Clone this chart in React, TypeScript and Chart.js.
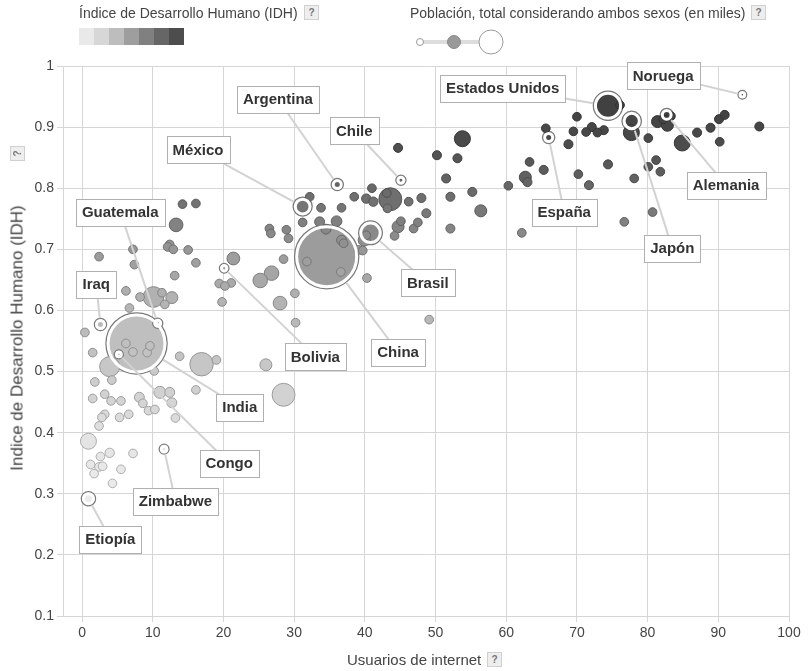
import React, { useEffect, useRef } from "react";
import { Chart, registerables } from "chart.js";

Chart.register(...registerables);

const FONT = "Arial, 'Liberation Sans', sans-serif";

const xTickValues = [0, 10, 20, 30, 40, 50, 60, 70, 80, 90, 100];
const yTickValues = [0.1, 0.2, 0.3, 0.4, 0.5, 0.6, 0.7, 0.8, 0.9, 1];

const labelledCountries = ["Noruega", "Estados Unidos", "Japón", "Alemania", "España", "Argentina", "Chile", "México", "Brasil", "China", "Bolivia", "Guatemala", "Iraq", "India", "Congo", "Zimbabwe", "Etiopía"];
const labelledInternet = [93.4, 74.4, 77.75, 82.7, 66.0, 36.1, 45.1, 31.2, 40.8, 34.6, 20.1, 10.7, 2.6, 7.7, 5.2, 11.6, 0.9];
const labelledIdh = [0.953, 0.935, 0.91, 0.92, 0.883, 0.806, 0.813, 0.77, 0.727, 0.688, 0.669, 0.579, 0.577, 0.546, 0.528, 0.373, 0.292];
const labelledPopulation = [5000, 315000, 127000, 40000, 32000, 32000, 14000, 120000, 200000, 1350000, 10000, 14000, 32000, 1240000, 6000, 12000, 54000];
const calloutInternet = [82.2, 59.5, 83.5, 91.1, 68.2, 27.7, 38.5, 16.4, 48.9, 44.7, 33.0, 5.4, 2.0, 22.3, 20.8, 13.2, 4.0];
const calloutIdh = [0.984, 0.964, 0.702, 0.805, 0.761, 0.946, 0.894, 0.863, 0.645, 0.532, 0.524, 0.761, 0.643, 0.442, 0.35, 0.288, 0.226];

const otherInternet = [
  76.1, 77.7, 81.4, 82.2, 82.8, 83.3, 84.9, 87.0, 88.9, 90.1,
  90.9, 95.8, 90.2, 80.1, 81.2, 80.1, 81.8, 74.4, 78.1, 71.7,
  80.7, 76.7, 71.3, 72.1, 72.9, 73.8, 70.0, 69.5, 68.8, 65.6,
  70.2, 65.3, 63.3, 62.7, 63.0, 60.3, 62.2, 53.8, 50.2, 53.1,
  51.5, 55.2, 52.1, 56.4, 48.7, 48.0, 52.1, 44.7, 32.2, 33.8,
  36.7, 38.5, 41.0, 40.2, 41.2, 43.6, 43.1, 43.2, 46.2, 31.2,
  33.6, 36.0, 34.5, 26.5, 26.7, 28.9, 29.2, 36.7, 37.0, 40.2,
  39.9, 39.1, 39.7, 44.7, 45.1, 44.2, 46.9, 47.5, 31.8, 36.6,
  40.3, 28.5, 26.8, 25.2, 30.1, 28.0, 30.2, 21.4, 21.1, 49.1,
  14.2, 16.1, 13.3, 12.4, 12.1, 12.9, 15.0, 7.2, 7.4, 2.4,
  16.1, 13.1, 6.2, 6.7, 10.1, 12.7, 8.2, 11.3, 11.7, 19.4,
  20.2, 19.8, 0.4, 6.2, 7.2, 9.2, 9.6, 1.5, 3.9, 4.2,
  10.2, 13.8, 16.9, 19.0, 1.8, 1.5, 3.2, 4.1, 5.5, 8.1,
  8.6, 11.0, 12.4, 12.7, 9.4, 10.3, 16.1, 13.2, 3.2, 2.8,
  2.4, 5.3, 6.6, 0.9, 3.9, 2.6, 1.2, 2.4, 1.7, 2.9,
  7.2, 5.5, 4.3, 28.5, 26.0,
];
const otherIdh = [
  0.936, 0.891, 0.909, 0.913, 0.903, 0.918, 0.874, 0.891, 0.899, 0.913,
  0.92, 0.901, 0.876, 0.882, 0.846, 0.835, 0.827, 0.839, 0.816, 0.805,
  0.761, 0.745, 0.892, 0.9, 0.891, 0.895, 0.917, 0.893, 0.872, 0.898,
  0.823, 0.83, 0.843, 0.818, 0.81, 0.804, 0.727, 0.881, 0.854, 0.849,
  0.816, 0.794, 0.786, 0.763, 0.759, 0.784, 0.734, 0.866, 0.786, 0.768,
  0.768, 0.786, 0.8, 0.783, 0.778, 0.782, 0.792, 0.767, 0.778, 0.744,
  0.745, 0.746, 0.733, 0.734, 0.726, 0.732, 0.718, 0.715, 0.71, 0.723,
  0.715, 0.699, 0.698, 0.737, 0.746, 0.722, 0.734, 0.744, 0.68, 0.663,
  0.653, 0.684, 0.661, 0.649, 0.628, 0.612, 0.58, 0.685, 0.645, 0.585,
  0.774, 0.775, 0.74, 0.708, 0.704, 0.7, 0.699, 0.7, 0.675, 0.688,
  0.678, 0.657, 0.632, 0.604, 0.622, 0.621, 0.622, 0.629, 0.61, 0.644,
  0.64, 0.614, 0.564, 0.546, 0.532, 0.531, 0.542, 0.531, 0.508, 0.486,
  0.501, 0.525, 0.512, 0.519, 0.483, 0.456, 0.463, 0.452, 0.452, 0.458,
  0.448, 0.466, 0.466, 0.449, 0.436, 0.438, 0.47, 0.424, 0.43, 0.425,
  0.411, 0.425, 0.43, 0.386, 0.367, 0.361, 0.348, 0.344, 0.333, 0.345,
  0.366, 0.34, 0.317, 0.462, 0.511,
];
const otherPopulation = [
  6000, 79000, 32000, 6000, 32000, 6000, 79000, 8000, 8000, 8000,
  8000, 8000, 6000, 6000, 6000, 6000, 6000, 8000, 6000, 8000,
  6000, 6000, 6000, 8000, 6000, 8000, 6000, 6000, 8000, 6000,
  6000, 8000, 6000, 32000, 8000, 6000, 6000, 79000, 8000, 8000,
  8000, 8000, 8000, 32000, 8000, 8000, 8000, 8000, 6000, 6000,
  6000, 6000, 6000, 10000, 10000, 190000, 6000, 6000, 6000, 6000,
  14000, 20000, 14000, 6000, 6000, 6000, 6000, 14000, 6000, 6000,
  32000, 6000, 6000, 32000, 6000, 6000, 6000, 6000, 6000, 6000,
  6000, 6000, 60000, 60000, 6000, 50000, 6000, 40000, 6000, 6000,
  6000, 6000, 50000, 6000, 6000, 6000, 6000, 6000, 6000, 6000,
  6000, 6000, 6000, 6000, 150000, 32000, 6000, 6000, 6000, 6000,
  6000, 6000, 6000, 6000, 6000, 6000, 6000, 6000, 139000, 6000,
  6000, 6000, 200000, 6000, 6000, 6000, 6000, 6000, 6000, 14000,
  6000, 32000, 14000, 14000, 6000, 6000, 6000, 6000, 6000, 6000,
  6000, 6000, 6000, 79000, 10000, 6000, 6000, 6000, 6000, 6000,
  6000, 6000, 6000, 190000, 32000,
];

const legendSwatches = ["#e9e9e9", "#d7d7d7", "#bdbdbd", "#9e9e9e", "#808080", "#666666", "#4d4d4d"];
const idhStops = [0.29, 0.39, 0.46, 0.55, 0.62, 0.69, 0.74, 0.78, 0.83, 0.88, 0.95];
const grayStops = [236, 228, 210, 190, 178, 155, 130, 112, 92, 74, 62];

function grayFor(v: number): number {
  if (v <= idhStops[0]) return grayStops[0];
  for (let i = 1; i < idhStops.length; i++) {
    if (v <= idhStops[i]) {
      const t = (v - idhStops[i - 1]) / (idhStops[i] - idhStops[i - 1]);
      return grayStops[i - 1] + t * (grayStops[i] - grayStops[i - 1]);
    }
  }
  return grayStops[grayStops.length - 1];
}
function rgb(g: number) {
  const c = Math.round(g);
  return `rgb(${c},${c},${c})`;
}
function radiusFor(pop: number) {
  return 3.5 + 28.5 * Math.pow(pop / 1350000, 0.65);
}

type Pt = { x: number; y: number; r: number; fill: string; stroke: string; bw: number };

function buildPoints() {
  const pts: Pt[] = [];
  otherInternet.forEach((x, i) => {
    const g = grayFor(otherIdh[i]);
    pts.push({ x, y: otherIdh[i], r: radiusFor(otherPopulation[i]), fill: rgb(g), stroke: rgb(g * 0.75), bw: 1 });
  });
  labelledInternet.forEach((x, i) => {
    const g = grayFor(labelledIdh[i]);
    pts.push({ x, y: labelledIdh[i], r: radiusFor(labelledPopulation[i]), fill: rgb(g), stroke: "#7a7a7a", bw: 1.5 });
  });
  pts.sort((a, b) => b.r - a.r);
  return pts;
}

const calloutPlugin = {
  id: "callouts",
  afterDatasetsDraw(chart: any) {
    const { ctx, scales } = chart;
    const xs = scales.x;
    const ys = scales.y;
    ctx.save();
    labelledCountries.forEach((_, i) => {
      const bx = xs.getPixelForValue(calloutInternet[i]);
      const by = ys.getPixelForValue(calloutIdh[i]);
      const px = xs.getPixelForValue(labelledInternet[i]);
      const py = ys.getPixelForValue(labelledIdh[i]);
      const r = radiusFor(labelledPopulation[i]) + 0.5;
      const dx = px - bx;
      const dy = py - by;
      const d = Math.hypot(dx, dy) || 1;
      ctx.strokeStyle = "#d2d2d2";
      ctx.lineWidth = 2;
      ctx.beginPath();
      ctx.moveTo(bx, by);
      ctx.lineTo(px - (dx / d) * r, py - (dy / d) * r);
      ctx.stroke();
    });
    ctx.font = `bold 15px ${FONT}`;
    ctx.textAlign = "center";
    ctx.textBaseline = "middle";
    labelledCountries.forEach((name, i) => {
      const bx = xs.getPixelForValue(calloutInternet[i]);
      const by = ys.getPixelForValue(calloutIdh[i]);
      const w = Math.round(ctx.measureText(name).width + 12);
      const h = 27;
      const left = Math.round(bx - w / 2) + 0.5;
      const top = Math.round(by - h / 2) + 0.5;
      ctx.fillStyle = "#ffffff";
      ctx.fillRect(left, top, w, h);
      ctx.strokeStyle = "#b0b0b0";
      ctx.lineWidth = 1;
      ctx.strokeRect(left, top, w, h);
      ctx.fillStyle = "#333333";
      ctx.fillText(name, bx, by + 1);
    });
    ctx.restore();
  },
};

function QBox({ left, top, rotate }: { left: number; top: number; rotate?: boolean }) {
  return (
    <div
      style={{
        position: "absolute",
        left,
        top,
        width: 13,
        height: 13,
        background: "#eeeeee",
        border: "1px solid #d0d0d0",
        color: "#777",
        fontSize: 10,
        fontWeight: "bold",
        lineHeight: "13px",
        textAlign: "center",
        transform: rotate ? "rotate(-90deg)" : undefined,
      }}
    >
      ?
    </div>
  );
}

export default function App() {
  const ref = useRef<HTMLCanvasElement>(null);
  useEffect(() => {
    const canvas = ref.current;
    if (!canvas) return;
    const pts = buildPoints();
    const halo = labelledInternet.map((x, i) => ({ x, y: labelledIdh[i], r: Math.max(radiusFor(labelledPopulation[i]) - 2, 0.5) }));
    const chart = new Chart(canvas, {
      type: "bubble",
      data: {
        datasets: [
          {
            label: "halo",
            data: halo,
            backgroundColor: "rgba(0,0,0,0)",
            borderColor: "#ffffff",
            borderWidth: 3,
            order: 0,
            clip: false,
          },
          {
            label: "países",
            data: pts as any,
            backgroundColor: (c: any) => (c.raw ? c.raw.fill : "#999"),
            borderColor: (c: any) => (c.raw ? c.raw.stroke : "#777"),
            borderWidth: (c: any) => (c.raw ? c.raw.bw : 1),
            order: 1,
            clip: false,
          },
        ],
      },
      options: {
        responsive: false,
        maintainAspectRatio: false,
        animation: false,
        devicePixelRatio: 1,
        events: [],
        layout: { autoPadding: false, padding: { top: 66, right: 20, left: 0, bottom: 0 } },
        plugins: { legend: { display: false }, tooltip: { enabled: false } },
        scales: {
          x: {
            type: "linear",
            min: -2.7,
            max: 100,
            afterBuildTicks: (s: any) => {
              s.ticks = xTickValues.map((v) => ({ value: v }));
            },
            afterFit: (s: any) => {
              s.height = 55;
              s.paddingLeft = 0;
              s.paddingRight = 0;
            },
            grid: { color: "#d6d6d6", tickColor: "#d6d6d6", tickLength: 6, lineWidth: 1 },
            border: { display: true, color: "#d6d6d6" },
            ticks: {
              color: "#444",
              font: { family: FONT, size: 14 },
              padding: 3,
              maxRotation: 0,
              autoSkip: false,
              callback: (v: any) => String(v),
            },
          },
          y: {
            type: "linear",
            min: 0.1,
            max: 1,
            afterBuildTicks: (s: any) => {
              s.ticks = yTickValues.map((v) => ({ value: v }));
            },
            afterFit: (s: any) => {
              s.width = 63;
              s.paddingTop = 0;
              s.paddingBottom = 0;
            },
            grid: { color: "#d6d6d6", tickColor: "#d6d6d6", tickLength: 6, lineWidth: 1 },
            border: { display: true, color: "#d6d6d6" },
            ticks: {
              color: "#444",
              font: { family: FONT, size: 14 },
              padding: 3,
              autoSkip: false,
              callback: (v: any) => String(Math.round(Number(v) * 10) / 10),
            },
          },
        },
      },
      plugins: [calloutPlugin],
    } as any);
    return () => chart.destroy();
  }, []);

  return (
    <div
      style={{
        position: "absolute",
        left: 0,
        top: 0,
        width: 809,
        height: 671,
        background: "#fff",
        fontFamily: FONT,
        color: "#444",
        overflow: "hidden",
      }}
    >
      <canvas ref={ref} width={809} height={671} style={{ position: "absolute", left: 0, top: 0, width: 809, height: 671 }} />
      <div style={{ position: "absolute", left: 79, top: 5, fontSize: 14, lineHeight: "16px", whiteSpace: "nowrap" }}>
        Índice de Desarrollo Humano (IDH)
      </div>
      <QBox left={304} top={5} />
      <div style={{ position: "absolute", left: 79, top: 28, display: "flex" }}>
        {legendSwatches.map((c) => (
          <div key={c} style={{ width: 15, height: 17, background: c }} />
        ))}
      </div>
      <div style={{ position: "absolute", left: 410, top: 5, fontSize: 14, lineHeight: "16px", whiteSpace: "nowrap" }}>
        Población, total considerando ambos sexos (en miles)
      </div>
      <QBox left={751} top={5} />
      <svg style={{ position: "absolute", left: 410, top: 28 }} width={100} height={30}>
        <line x1={10} y1={14} x2={81} y2={14} stroke="#dddddd" strokeWidth={4} />
        <circle cx={10} cy={14} r={3.5} fill="#fff" stroke="#999" strokeWidth={1} />
        <circle cx={44} cy={14} r={6.5} fill="#999" stroke="#888" strokeWidth={1} />
        <circle cx={81} cy={14} r={12} fill="#fff" stroke="#999" strokeWidth={1} />
      </svg>
      <div style={{ position: "absolute", left: 347, top: 651, fontSize: 15, lineHeight: "17px", whiteSpace: "nowrap" }}>
        Usuarios de internet
      </div>
      <QBox left={487} top={652} />
      <div
        style={{
          position: "absolute",
          left: 17,
          top: 338,
          fontSize: 17,
          lineHeight: "19px",
          whiteSpace: "nowrap",
          transform: "translate(-50%, -50%) rotate(-90deg)",
        }}
      >
        Indice de Desarrollo Humano (IDH)
      </div>
      <QBox left={10} top={146} rotate />
    </div>
  );
}
